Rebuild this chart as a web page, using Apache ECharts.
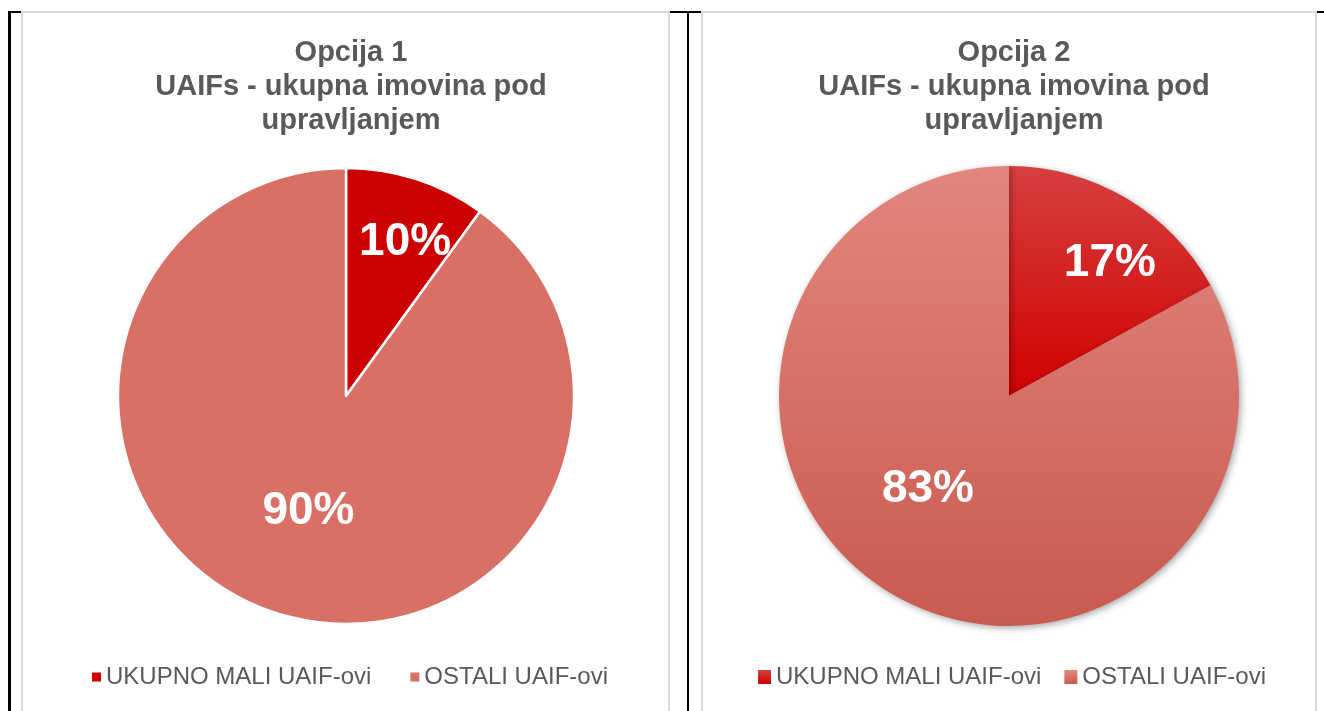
<!DOCTYPE html>
<html>
<head>
<meta charset="utf-8">
<script src="https://cdn.jsdelivr.net/npm/echarts@6/dist/echarts.min.js"></script>
<style>
html,body{margin:0;padding:0;background:#fff;}
#main{width:1324px;height:711px;}
</style>
</head>
<body>
<div id="main"></div>
<script>
const categories = ['UKUPNO MALI UAIF-ovi', 'OSTALI UAIF-ovi'];
const values1 = [10, 90];
const values2 = [17, 83];
const title1 = 'Opcija 1\nUAIFs - ukupna imovina pod\nupravljanjem';
const title2 = 'Opcija 2\nUAIFs - ukupna imovina pod\nupravljanjem';

const FONT = '"Liberation Sans", Arial, sans-serif';
const TXT = '#595959';

const c1 = ['#cc0000', '#d87066'];
const grad = (a, b) => ({type: 'linear', x: 0, y: 0, x2: 0, y2: 1,
  colorStops: [{offset: 0, color: a}, {offset: 1, color: b}]});
const c2 = [grad('#d64040', '#d10000'), grad('#e2867e', '#c95a4f')];

const chart = echarts.init(document.getElementById('main'), null, {renderer: 'canvas'});

function mainPie(center, r, vals, colors, extra) {
  return Object.assign({
    type: 'pie', center: center, radius: [0, r], startAngle: 90, clockwise: true,
    silent: true, animation: false, legendHoverLink: false,
    label: {show: false}, labelLine: {show: false},
    data: categories.map((n, i) => ({name: n, value: vals[i], itemStyle: {color: colors[i]}}))
  }, extra || {});
}
// transparent overlay used only to place one value label (Excel-like label placement)
function labelPie(center, radius, startAngle, vals, idx) {
  return {
    type: 'pie', center: center, radius: radius, startAngle: startAngle, clockwise: true,
    silent: true, animation: false, legendHoverLink: false, z: 5,
    itemStyle: {color: 'rgba(0,0,0,0)', borderWidth: 0},
    labelLine: {show: false},
    data: categories.map((n, i) => ({
      name: n, value: vals[i],
      label: {show: i === idx, position: 'inside', formatter: '{c}%', color: '#fff',
        fontSize: 46, fontWeight: 'bold', fontFamily: FONT}
    }))
  };
}

const C1 = [346, 396], R1 = 228;
const C2 = [1009, 396], R2 = 230;
const titleStyle = {fontFamily: FONT, fontSize: 29, fontWeight: 'bold', color: TXT, lineHeight: 34};

chart.setOption({
  backgroundColor: '#fff',
  graphic: [
    {type: 'rect', shape: {x: 8, y: 11, width: 3, height: 700}, style: {fill: '#000'}, z: 0},
    {type: 'rect', shape: {x: 8, y: 11, width: 1316, height: 2}, style: {fill: '#000'}, z: 0},
    {type: 'rect', shape: {x: 687, y: 11, width: 2, height: 700}, style: {fill: '#000'}, z: 0},
    {type: 'rect', shape: {x: 22, y: 12, width: 647, height: 720}, style: {fill: '#fff', stroke: '#d9d9d9', lineWidth: 2}, z: 1},
    {type: 'rect', shape: {x: 702, y: 12, width: 614, height: 720}, style: {fill: '#fff', stroke: '#d9d9d9', lineWidth: 2}, z: 1}
  ],
  title: [
    {text: title1, left: C1[0], top: 31, textAlign: 'center', textStyle: titleStyle},
    {text: title2, left: C2[0], top: 31, textAlign: 'center', textStyle: titleStyle}
  ],
  legend: [
    {left: 92, top: 665, padding: 0, icon: 'rect', itemWidth: 9, itemHeight: 9, itemGap: 39, selectedMode: false,
     textStyle: {fontFamily: FONT, fontSize: 24, color: TXT},
     data: categories.map((n, i) => ({name: n, itemStyle: {color: c1[i], borderWidth: 0, shadowBlur: 0}}))},
    {left: 758, top: 665, padding: 0, icon: 'rect', itemWidth: 13, itemHeight: 14, itemGap: 23, selectedMode: false,
     textStyle: {fontFamily: FONT, fontSize: 24, color: TXT},
     data: categories.map((n, i) => ({name: n, itemStyle: {color: c2[i], borderWidth: 0, shadowBlur: 0}}))}
  ],
  series: [
    mainPie(C1, R1, values1, c1, {itemStyle: {borderColor: '#fff', borderWidth: 2.5}}),
    mainPie(C2, R2, values2, c2, {itemStyle: {shadowBlur: 7, shadowOffsetX: 2, shadowOffsetY: 2, shadowColor: 'rgba(0,0,0,0.35)'}}),
    labelPie(C1, [96, R1], 87, values1, 0),
    labelPie(C1, [0, 237], 90, values1, 1),
    labelPie(C2, [97, R2], 83.3, values2, 0),
    labelPie(C2, [0, 241], 79.6, values2, 1)
  ]
});
</script>
</body>
</html>
